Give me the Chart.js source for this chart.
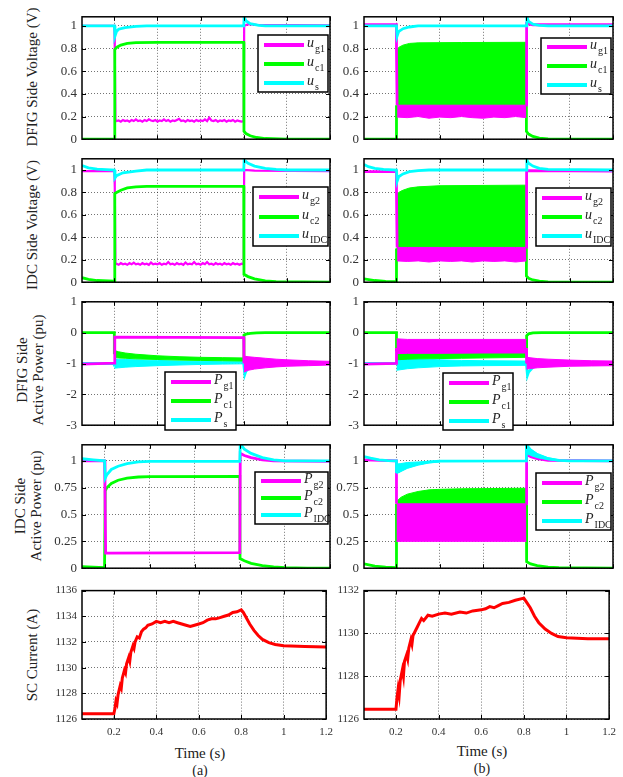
<!DOCTYPE html>
<html><head><meta charset="utf-8">
<script src="https://cdn.jsdelivr.net/npm/chart.js@4.4.1/dist/chart.umd.min.js"></script>
<style>
html,body{margin:0;padding:0;background:#fff;}
body{width:623px;height:777px;position:relative;overflow:hidden;}
canvas{position:absolute;}
.lbl{position:absolute;font-family:'Liberation Serif',serif;color:#222;white-space:nowrap;text-align:center;}
.rot{transform:translate(-50%,-50%) rotate(-90deg);line-height:16px;font-size:15px;}
.ctr{transform:translate(-50%,-50%);}
</style></head><body>
<div class="lbl rot" style="left:32px;top:77px;">DFIG Side Voltage (V)</div>
<div class="lbl rot" style="left:32px;top:225px;">IDC Side Voltage (V)</div>
<div class="lbl rot" style="left:30px;top:370px;">DFIG Side<br>Active Power (pu)</div>
<div class="lbl rot" style="left:28px;top:506px;">IDC Side<br>Active Power (pu)</div>
<div class="lbl rot" style="left:32px;top:655px;">SC Current (A)</div>
<div class="lbl ctr" style="left:200px;top:753px;font-size:15px;">Time (s)</div>
<div class="lbl ctr" style="left:200px;top:771px;font-size:14px;">(a)</div>
<div class="lbl ctr" style="left:482px;top:751px;font-size:15px;">Time (s)</div>
<div class="lbl ctr" style="left:482px;top:769px;font-size:14px;">(b)</div>
<script>
// ================= DATA =================
const xTicks = [0.2, 0.4, 0.6, 0.8, 1.0, 1.2];
const xTickLabels = ['0.2', '0.4', '0.6', '0.8', '1', '1.2'];
const yTicksV = [0, 0.2, 0.4, 0.6, 0.8, 1];
const yTickLabelsV = ['0', '0.2', '0.4', '0.6', '0.8', '1'];
const yTicksP1 = [-3, -2, -1, 0, 1];
const yTickLabelsP1 = ['-3', '-2', '-1', '0', '1'];
const yTicksP2 = [0, 0.25, 0.5, 0.75, 1];
const yTickLabelsP2 = ['0', '0.25', '0.5', '0.75', '1'];
const yTicksIa = [1126, 1128, 1130, 1132, 1134, 1136];
const yTickLabelsIa = ['1126', '1128', '1130', '1132', '1134', '1136'];
const yTicksIb = [1126, 1128, 1130, 1132];
const yTickLabelsIb = ['1126', '1128', '1130', '1132'];

// ---- column (a) : [t, value] ----
const ug1_a = [[0.05,1.0],[0.2,1.0],[0.202,0.8],[0.205,0.17],[0.21,0.16],[0.22,0.165],[0.23,0.155],[0.24,0.17],[0.25,0.16],[0.26,0.165],[0.27,0.155],[0.28,0.17],[0.29,0.16],[0.3,0.175],[0.31,0.16],[0.32,0.165],[0.33,0.155],[0.34,0.17],[0.35,0.16],[0.36,0.175],[0.37,0.165],[0.38,0.16],[0.39,0.17],[0.4,0.155],[0.41,0.165],[0.42,0.16],[0.43,0.175],[0.44,0.16],[0.45,0.17],[0.46,0.155],[0.47,0.165],[0.48,0.16],[0.49,0.17],[0.5,0.18],[0.51,0.16],[0.52,0.165],[0.53,0.155],[0.54,0.17],[0.55,0.16],[0.56,0.165],[0.57,0.155],[0.58,0.17],[0.59,0.16],[0.6,0.165],[0.61,0.16],[0.62,0.175],[0.63,0.16],[0.64,0.19],[0.65,0.165],[0.66,0.16],[0.67,0.17],[0.68,0.155],[0.69,0.165],[0.7,0.16],[0.71,0.17],[0.72,0.155],[0.73,0.165],[0.74,0.16],[0.75,0.17],[0.76,0.155],[0.77,0.165],[0.78,0.16],[0.79,0.155],[0.8,0.16],[0.802,1.0],[0.82,1.015],[0.86,1.01],[1.2,1.005]];
const uc1_a = [[0.05,0],[0.2,0],[0.202,0.79],[0.21,0.81],[0.23,0.83],[0.26,0.845],[0.3,0.852],[0.4,0.855],[0.8,0.855],[0.801,0.07],[0.81,0.05],[0.83,0.03],[0.86,0.015],[0.9,0.006],[1.0,0.0],[1.2,0.0]];
const us_a = [[0.05,1.0],[0.2,1.0],[0.203,0.91],[0.21,0.95],[0.22,0.97],[0.25,0.985],[0.3,0.995],[0.35,1.0],[0.8,1.0],[0.802,1.08],[0.81,1.045],[0.83,1.02],[0.87,1.005],[0.9,1.0],[1.2,1.0]];

const ug2_a = [[0.05,0.99],[0.2,0.99],[0.202,0.85],[0.205,0.16],[0.21,0.165],[0.22,0.155],[0.23,0.17],[0.24,0.16],[0.25,0.165],[0.26,0.155],[0.27,0.17],[0.28,0.16],[0.29,0.175],[0.3,0.16],[0.31,0.165],[0.32,0.155],[0.33,0.17],[0.34,0.16],[0.35,0.165],[0.36,0.155],[0.37,0.175],[0.38,0.16],[0.39,0.165],[0.4,0.16],[0.41,0.17],[0.42,0.155],[0.43,0.165],[0.44,0.16],[0.45,0.18],[0.46,0.16],[0.47,0.165],[0.48,0.155],[0.49,0.17],[0.5,0.16],[0.51,0.165],[0.52,0.155],[0.53,0.175],[0.54,0.16],[0.55,0.165],[0.56,0.16],[0.57,0.18],[0.58,0.16],[0.59,0.165],[0.6,0.155],[0.61,0.17],[0.62,0.16],[0.63,0.18],[0.64,0.16],[0.65,0.165],[0.66,0.155],[0.67,0.17],[0.68,0.16],[0.69,0.165],[0.7,0.155],[0.71,0.17],[0.72,0.16],[0.73,0.165],[0.74,0.155],[0.75,0.17],[0.76,0.16],[0.77,0.165],[0.78,0.155],[0.79,0.165],[0.8,0.16],[0.802,1.0],[0.85,0.995],[1.2,0.99]];
const uc2_a = [[0.05,0.04],[0.08,0.025],[0.12,0.015],[0.2,0.01],[0.202,0.79],[0.21,0.8],[0.23,0.82],[0.26,0.84],[0.3,0.85],[0.35,0.855],[0.8,0.855],[0.801,0.07],[0.82,0.05],[0.85,0.03],[0.9,0.012],[0.95,0.004],[1.2,0.0]];
const uIDC_a = [[0.05,1.04],[0.08,1.02],[0.12,1.008],[0.2,1.0],[0.203,0.93],[0.21,0.95],[0.24,0.975],[0.3,0.99],[0.35,1.0],[0.8,1.0],[0.802,1.09],[0.82,1.06],[0.85,1.035],[0.9,1.015],[0.95,1.005],[1.0,1.0],[1.2,1.0]];

const Pg1_a = [[0.05,-1.02],[0.2,-0.99],[0.202,-0.15],[0.5,-0.155],[0.8,-0.16],[0.801,-1.0]];
const Pg1_a_osc = [[0.8,-1.28,-0.76],[0.82,-1.22,-0.78],[0.85,-1.18,-0.8],[0.9,-1.14,-0.83],[0.95,-1.11,-0.86],[1.0,-1.09,-0.88],[1.1,-1.07,-0.91],[1.2,-1.05,-0.93]];
const Pc1_a = [[0.05,0],[0.2,0],[0.2,-0.7],[0.5,null],[0.8,-0.86],[0.801,-0.08],[0.81,-0.05],[0.83,-0.02],[0.86,-0.005],[0.9,0],[1.2,0]];
const Pc1_a_osc = [[0.2,-0.8,-0.58],[0.22,-0.82,-0.62],[0.25,-0.83,-0.66],[0.3,-0.85,-0.7],[0.4,-0.87,-0.75],[0.5,-0.89,-0.78],[0.6,-0.9,-0.8],[0.7,-0.91,-0.81],[0.8,-0.92,-0.82]];
const Ps_a = [[0.05,-1.0],[0.2,-1.0],[0.2,-1.1],[0.5,null],[0.8,-1.0],[0.805,-1.35],[0.81,-1.25],[0.83,-1.1],[0.87,-1.02],[1.2,-1.0]];
const Ps_a_osc = [[0.2,-1.15,-0.85],[0.22,-1.14,-0.86],[0.25,-1.12,-0.87],[0.3,-1.1,-0.88],[0.4,-1.07,-0.9],[0.5,-1.05,-0.92],[0.6,-1.03,-0.93],[0.7,-1.02,-0.94],[0.8,-1.01,-0.94]];

const Pg2_a = [[0.1,1.0],[0.2,1.0],[0.202,0.7],[0.205,0.14],[0.8,0.145],[0.802,1.07],[0.82,1.05],[0.85,1.03],[0.9,1.01],[0.95,1.0],[1.2,0.995]];
const Pc2_a = [[0.1,0.015],[0.15,0.01],[0.2,0.005],[0.203,0.72],[0.21,0.75],[0.23,0.79],[0.26,0.82],[0.3,0.84],[0.35,0.85],[0.4,0.853],[0.8,0.855],[0.801,0.09],[0.82,0.07],[0.85,0.045],[0.9,0.025],[0.95,0.012],[1.0,0.005],[1.1,0.0],[1.2,0.0]];
const PIDC_a = [[0.1,1.02],[0.15,1.01],[0.2,1.0],[0.203,0.84],[0.21,0.87],[0.23,0.92],[0.26,0.95],[0.3,0.975],[0.35,0.99],[0.4,0.995],[0.8,0.995],[0.802,1.16],[0.82,1.11],[0.85,1.07],[0.9,1.03],[0.95,1.01],[1.0,1.0],[1.2,1.0]];

const Isc_a = [[0.05,1126.4],[0.2,1126.4],[0.205,1126.8],[0.21,1127.4],[0.215,1127.2],[0.22,1127.9],[0.23,1128.6],[0.235,1128.4],[0.24,1129.2],[0.25,1129.8],[0.255,1129.6],[0.26,1130.3],[0.27,1130.8],[0.275,1130.5],[0.28,1131.2],[0.29,1131.7],[0.295,1131.5],[0.3,1132.0],[0.31,1132.4],[0.32,1132.3],[0.33,1132.8],[0.34,1133.0],[0.35,1133.1],[0.36,1133.3],[0.38,1133.4],[0.4,1133.6],[0.42,1133.5],[0.44,1133.6],[0.46,1133.5],[0.48,1133.6],[0.5,1133.5],[0.52,1133.4],[0.54,1133.3],[0.56,1133.2],[0.58,1133.3],[0.6,1133.4],[0.62,1133.5],[0.64,1133.7],[0.66,1133.8],[0.68,1133.8],[0.7,1133.9],[0.72,1134.0],[0.74,1134.1],[0.76,1134.3],[0.78,1134.35],[0.8,1134.5],[0.81,1134.3],[0.82,1134.0],[0.84,1133.4],[0.86,1132.9],[0.88,1132.5],[0.9,1132.2],[0.93,1131.95],[0.96,1131.8],[1.0,1131.7],[1.1,1131.65],[1.2,1131.6]];

// ---- column (b) : [t, value]  and oscillation envelopes [t, low, high] ----
const ug1_b = [[0.05,1.01],[0.2,1.01],[0.2,0.78],[0.203,0.3],[0.5,null],[0.8,0.3],[0.801,1.02],[0.83,1.01],[1.2,1.01]];
const ug1_b_osc = [[0.203,0.195,0.3],[0.25,0.19,0.3],[0.3,0.2,0.3],[0.35,0.185,0.3],[0.4,0.195,0.3],[0.45,0.19,0.3],[0.5,0.2,0.3],[0.55,0.19,0.3],[0.6,0.185,0.3],[0.65,0.195,0.3],[0.7,0.19,0.3],[0.75,0.2,0.3],[0.8,0.19,0.3]];
const uc1_b = [[0.05,0],[0.2,0],[0.2,0.3],[0.5,null],[0.8,0.5],[0.8,0.07],[0.81,0.045],[0.83,0.025],[0.86,0.01],[0.9,0.003],[1.2,0]];
const uc1_b_osc = [[0.2,0.3,0.78],[0.21,0.3,0.81],[0.23,0.3,0.83],[0.26,0.3,0.845],[0.3,0.3,0.85],[0.5,0.3,0.853],[0.8,0.3,0.855]];
const us_b = [[0.05,1.0],[0.2,1.0],[0.203,0.91],[0.21,0.95],[0.23,0.975],[0.26,0.99],[0.3,1.0],[0.8,1.0],[0.802,1.08],[0.81,1.04],[0.83,1.015],[0.86,1.005],[0.9,1.0],[1.2,1.0]];

const ug2_b = [[0.05,0.985],[0.2,0.985],[0.2,0.8],[0.203,0.31],[0.5,null],[0.8,0.31],[0.801,0.995],[1.2,0.99]];
const ug2_b_osc = [[0.203,0.19,0.31],[0.25,0.185,0.31],[0.3,0.19,0.31],[0.35,0.18,0.31],[0.4,0.19,0.31],[0.45,0.185,0.31],[0.5,0.19,0.31],[0.55,0.18,0.31],[0.6,0.19,0.31],[0.65,0.185,0.31],[0.7,0.19,0.31],[0.75,0.18,0.31],[0.8,0.19,0.31]];
const uc2_b = [[0.05,0.03],[0.1,0.015],[0.15,0.008],[0.2,0.005],[0.2,0.3],[0.5,null],[0.8,0.5],[0.8,0.055],[0.81,0.035],[0.83,0.02],[0.86,0.01],[0.9,0.003],[1.2,0]];
const uc2_b_osc = [[0.2,0.3,0.78],[0.21,0.3,0.8],[0.23,0.3,0.82],[0.26,0.3,0.84],[0.3,0.3,0.85],[0.4,0.3,0.86],[0.8,0.3,0.865]];
const uIDC_b = [[0.05,1.05],[0.07,1.03],[0.1,1.015],[0.14,1.005],[0.2,1.0],[0.203,0.9],[0.21,0.94],[0.23,0.965],[0.26,0.985],[0.3,0.995],[0.35,1.0],[0.8,1.0],[0.802,1.09],[0.81,1.06],[0.83,1.035],[0.86,1.015],[0.9,1.005],[1.2,1.0]];

const Pg1_b = [[0.05,-1.02],[0.2,-1.0],[0.2,-0.5],[0.5,null],[0.8,-0.5],[0.801,-1.0]];
const Pg1_b_osc = [[0.2,-0.68,-0.2],[0.25,-0.67,-0.22],[0.4,-0.67,-0.22],[0.6,-0.66,-0.22],[0.8,-0.66,-0.22]];
const Pg1_b_osc2 = [[0.8,-1.18,-0.8],[0.85,-1.14,-0.84],[0.9,-1.12,-0.86],[1.0,-1.09,-0.89],[1.1,-1.08,-0.91],[1.2,-1.07,-0.92]];
const Pc1_b = [[0.05,0],[0.2,0],[0.2,-0.6],[0.5,null],[0.8,-0.7],[0.801,-0.1],[0.81,-0.04],[0.83,-0.01],[0.87,0],[1.2,0]];
const Pc1_b_osc = [[0.2,-0.88,-0.55],[0.25,-0.86,-0.6],[0.3,-0.85,-0.62],[0.5,-0.83,-0.64],[0.8,-0.8,-0.65]];
const Ps_b = [[0.05,-1.0],[0.2,-1.0],[0.5,null],[0.8,-1.0],[0.805,-1.38],[0.81,-1.28],[0.83,-1.12],[0.87,-1.03],[1.2,-1.0]];
const Ps_b_osc = [[0.2,-1.22,-0.75],[0.25,-1.17,-0.8],[0.3,-1.14,-0.85],[0.4,-1.1,-0.88],[0.5,-1.08,-0.9],[0.6,-1.07,-0.91],[0.8,-1.06,-0.92]];

const Pg2_b = [[0.05,1.01],[0.2,1.0],[0.2,0.6],[0.5,null],[0.8,0.6],[0.801,1.06],[0.82,1.04],[0.85,1.02],[0.9,1.005],[1.2,1.0]];
const Pg2_b_osc = [[0.2,0.25,0.6],[0.4,0.25,0.6],[0.6,0.25,0.6],[0.8,0.25,0.6]];
const Pc2_b = [[0.05,0.04],[0.1,0.02],[0.15,0.01],[0.2,0.005],[0.2,0.6],[0.5,null],[0.8,0.7],[0.801,0.06],[0.82,0.04],[0.85,0.025],[0.9,0.01],[0.95,0.005],[1.2,0]];
const Pc2_b_osc = [[0.2,0.58,0.62],[0.22,0.58,0.66],[0.25,0.58,0.69],[0.3,0.58,0.715],[0.35,0.58,0.73],[0.4,0.58,0.735],[0.5,0.58,0.74],[0.8,0.58,0.745]];
const PIDC_b = [[0.05,1.04],[0.08,1.025],[0.12,1.01],[0.16,1.003],[0.2,1.0],[0.2,0.9],[0.21,0.9],[0.23,0.93],[0.26,0.955],[0.3,0.975],[0.35,0.99],[0.4,0.997],[0.8,1.0],[0.8,1.15],[0.82,1.1],[0.85,1.055],[0.9,1.02],[0.95,1.005],[1.0,1.0],[1.2,1.0]];
const PIDC_b_osc = [[0.2,0.88,0.97],[0.22,0.9,0.975],[0.25,0.93,0.985],[0.3,0.96,0.99],[0.35,0.98,0.995],[0.4,0.99,1.0]];
const PIDC_b_osc2 = [[0.8,1.07,1.15],[0.82,1.05,1.11],[0.85,1.03,1.07],[0.9,1.01,1.03],[0.95,1.0,1.01]];

const Isc_b = [[0.05,1126.45],[0.2,1126.45],[0.205,1127.0],[0.21,1127.4],[0.215,1127.1],[0.22,1127.8],[0.23,1128.3],[0.235,1128.0],[0.24,1128.7],[0.25,1129.0],[0.255,1128.8],[0.26,1129.3],[0.27,1129.7],[0.275,1129.5],[0.28,1129.9],[0.29,1130.1],[0.3,1130.3],[0.31,1130.5],[0.32,1130.7],[0.33,1130.6],[0.35,1130.85],[0.37,1130.8],[0.4,1130.9],[0.43,1130.95],[0.46,1130.9],[0.5,1131.0],[0.53,1130.95],[0.56,1131.05],[0.6,1131.1],[0.62,1131.15],[0.64,1131.25],[0.66,1131.2],[0.68,1131.3],[0.7,1131.4],[0.73,1131.45],[0.76,1131.55],[0.8,1131.65],[0.81,1131.5],[0.83,1131.2],[0.85,1130.8],[0.87,1130.5],[0.9,1130.2],[0.93,1130.0],[0.96,1129.85],[1.0,1129.8],[1.1,1129.75],[1.2,1129.75]];

// ================= RENDERING =================
const MAG = '#ff00ff', GRN = '#00ff00', CYN = '#00ffff', RED = '#ff0000';
const FONT = '"Liberation Serif", "Times New Roman", serif';

function lineDS(pts, color, order, w) {
  return { data: pts.map(p => ({ x: p[0], y: p[1] })), borderColor: color, backgroundColor: color,
    borderWidth: w || 2.8, pointRadius: 0, fill: false, order: order, spanGaps: false, tension: 0 };
}
function bandDS(band, color, order) {
  return [
    { data: band.map(p => ({ x: p[0], y: p[1] })), borderColor: color, backgroundColor: color, borderWidth: 1, pointRadius: 0, fill: false, order: order },
    { data: band.map(p => ({ x: p[0], y: p[2] })), borderColor: color, backgroundColor: color, borderWidth: 1, pointRadius: 0, fill: '-1', order: order }
  ];
}

const framePlugin = {
  id: 'frame',
  afterDatasetsDraw(chart) {
    const { ctx, chartArea: a, scales } = chart;
    ctx.save();
    ctx.strokeStyle = '#000'; ctx.lineWidth = 1;
    ctx.beginPath();
    scales.x.ticks.forEach(t => {
      const px = Math.round(scales.x.getPixelForValue(t.value)) + 0.5;
      ctx.moveTo(px, a.bottom); ctx.lineTo(px, a.bottom - 4);
      ctx.moveTo(px, a.top); ctx.lineTo(px, a.top + 4);
    });
    scales.y.ticks.forEach(t => {
      const py = Math.round(scales.y.getPixelForValue(t.value)) + 0.5;
      ctx.moveTo(a.left, py); ctx.lineTo(a.left + 4, py);
      ctx.moveTo(a.right, py); ctx.lineTo(a.right - 4, py);
    });
    ctx.stroke();
    ctx.lineWidth = 1.5;
    ctx.strokeRect(a.left, a.top, a.right - a.left, a.bottom - a.top);
    ctx.restore();
  }
};

function legendPlugin(leg, offX, offY) {
  return {
    id: 'mlegend',
    afterDraw(chart) {
      if (!leg) return;
      const ctx = chart.ctx;
      const x = leg.box[0] - offX, y = leg.box[1] - offY, w = leg.box[2], h = leg.box[3];
      ctx.save();
      ctx.fillStyle = '#fff'; ctx.fillRect(x, y, w, h);
      ctx.strokeStyle = '#000'; ctx.lineWidth = 1.5; ctx.strokeRect(x, y, w, h);
      leg.items.forEach((it, i) => {
        const cy = Math.round(y + h * (2 * i + 1) / 6);
        ctx.strokeStyle = it.color; ctx.lineWidth = 4;
        ctx.beginPath(); ctx.moveTo(x + 6, cy); ctx.lineTo(x + 46, cy); ctx.stroke();
        ctx.fillStyle = '#222'; ctx.textBaseline = 'middle'; ctx.textAlign = 'left';
        ctx.font = "italic 14px " + FONT;
        ctx.fillText(it.sym, x + 49, cy - 2);
        const mw = ctx.measureText(it.sym).width;
        ctx.font = "10px " + FONT;
        ctx.fillText(it.sub, x + 49 + mw + 1, cy + 4);
      });
      ctx.restore();
    }
  };
}

const LX = [82, 330], RX = [364, 613];
const rows = [[14, 144], [156, 287], [299, 430], [442, 573], [589, 719]];

const panels = [
  { col: LX, row: 0, xmin: 0.05, ymin: 0, ymax: 1.08, yt: yTicksV, yl: yTickLabelsV, fs: 13,
    series: [{ line: us_a, c: CYN, o: 0 }, { line: uc1_a, c: GRN, o: 1 }, { line: ug1_a, c: MAG, o: 2, w: 2.2 }],
    legend: { box: [258, 35, 70, 57], items: [{ sym: 'u', sub: 'g1', color: MAG }, { sym: 'u', sub: 'c1', color: GRN }, { sym: 'u', sub: 's', color: CYN }] } },
  { col: RX, row: 0, xmin: 0.05, ymin: 0, ymax: 1.08, yt: yTicksV, yl: yTickLabelsV, fs: 13,
    series: [{ line: us_b, c: CYN, o: 0 }, { line: ug1_b, bands: [ug1_b_osc], c: MAG, o: 1 }, { line: uc1_b, bands: [uc1_b_osc], c: GRN, o: 2 }],
    legend: { box: [541, 38, 70, 56], items: [{ sym: 'u', sub: 'g1', color: MAG }, { sym: 'u', sub: 'c1', color: GRN }, { sym: 'u', sub: 's', color: CYN }] } },
  { col: LX, row: 1, xmin: 0.05, ymin: 0, ymax: 1.1, yt: yTicksV, yl: yTickLabelsV, fs: 13,
    series: [{ line: uIDC_a, c: CYN, o: 0 }, { line: uc2_a, c: GRN, o: 1 }, { line: ug2_a, c: MAG, o: 2, w: 2.2 }],
    legend: { box: [253, 187, 75, 59], items: [{ sym: 'u', sub: 'g2', color: MAG }, { sym: 'u', sub: 'c2', color: GRN }, { sym: 'u', sub: 'IDC', color: CYN }] } },
  { col: RX, row: 1, xmin: 0.05, ymin: 0, ymax: 1.1, yt: yTicksV, yl: yTickLabelsV, fs: 13,
    series: [{ line: uIDC_b, c: CYN, o: 0 }, { line: ug2_b, bands: [ug2_b_osc], c: MAG, o: 1 }, { line: uc2_b, bands: [uc2_b_osc], c: GRN, o: 2 }],
    legend: { box: [536, 188, 75, 58], items: [{ sym: 'u', sub: 'g2', color: MAG }, { sym: 'u', sub: 'c2', color: GRN }, { sym: 'u', sub: 'IDC', color: CYN }] } },
  { col: LX, row: 2, xmin: 0.05, ymin: -3, ymax: 1, yt: yTicksP1, yl: yTickLabelsP1, fs: 13,
    series: [{ line: Pg1_a, bands: [Pg1_a_osc], c: MAG, o: 0 }, { line: Pc1_a, bands: [Pc1_a_osc], c: GRN, o: 1 }, { line: Ps_a, bands: [Ps_a_osc], c: CYN, o: 2 }],
    legend: { box: [165, 372, 71, 58], items: [{ sym: 'P', sub: 'g1', color: MAG }, { sym: 'P', sub: 'c1', color: GRN }, { sym: 'P', sub: 's', color: CYN }] } },
  { col: RX, row: 2, xmin: 0.05, ymin: -3, ymax: 1, yt: yTicksP1, yl: yTickLabelsP1, fs: 13,
    series: [{ line: Pg1_b, bands: [Pg1_b_osc, Pg1_b_osc2], c: MAG, o: 0 }, { line: Pc1_b, bands: [Pc1_b_osc], c: GRN, o: 1 }, { line: Ps_b, bands: [Ps_b_osc], c: CYN, o: 2 }],
    legend: { box: [443, 373, 70, 57], items: [{ sym: 'P', sub: 'g1', color: MAG }, { sym: 'P', sub: 'c1', color: GRN }, { sym: 'P', sub: 's', color: CYN }] } },
  { col: LX, row: 3, xmin: 0.1, ymin: 0, ymax: 1.15, yt: yTicksP2, yl: yTickLabelsP2, fs: 13,
    series: [{ line: PIDC_a, c: CYN, o: 0 }, { line: Pg2_a, c: MAG, o: 1 }, { line: Pc2_a, c: GRN, o: 2 }],
    legend: { box: [255, 472, 73, 52], items: [{ sym: 'P', sub: 'g2', color: MAG }, { sym: 'P', sub: 'c2', color: GRN }, { sym: 'P', sub: 'IDC', color: CYN }] } },
  { col: RX, row: 3, xmin: 0.05, ymin: 0, ymax: 1.15, yt: yTicksP2, yl: yTickLabelsP2, fs: 13,
    series: [{ line: PIDC_b, bands: [PIDC_b_osc, PIDC_b_osc2], c: CYN, o: 0 }, { line: Pg2_b, bands: [Pg2_b_osc], c: MAG, o: 1 }, { line: Pc2_b, bands: [Pc2_b_osc], c: GRN, o: 2 }],
    legend: { box: [536, 473, 75, 57], items: [{ sym: 'P', sub: 'g2', color: MAG }, { sym: 'P', sub: 'c2', color: GRN }, { sym: 'P', sub: 'IDC', color: CYN }] } },
  { col: LX, row: 4, xmin: 0.05, ymin: 1126, ymax: 1136, yt: yTicksIa, yl: yTickLabelsIa, fs: 11, showX: true,
    series: [{ line: Isc_a, c: RED, o: 0, w: 3 }] },
  { col: RX, row: 4, xmin: 0.05, ymin: 1126, ymax: 1132, yt: yTicksIb, yl: yTickLabelsIb, fs: 11, showX: true,
    series: [{ line: Isc_b, c: RED, o: 0, w: 3 }] }
];

const padL = 48, padT = 10, padR = 10;
const charts = [];
function build() {
  panels.forEach(p => {
    const L = p.col[0], R = p.col[1], T = rows[p.row][0], B = rows[p.row][1];
    const xh = p.showX ? 24 : 8;
    const cw = (R - L) + padL + padR, ch = (B - T) + padT + xh;
    const offX = L - padL, offY = T - padT;
    const cv = document.createElement('canvas');
    cv.width = cw; cv.height = ch;
    cv.style.left = offX + 'px'; cv.style.top = offY + 'px';
    cv.style.width = cw + 'px'; cv.style.height = ch + 'px';
    document.body.appendChild(cv);

    const datasets = [];
    p.series.forEach(s => {
      (s.bands || []).forEach(b => bandDS(b, s.c, s.o).forEach(d => datasets.push(d)));
      datasets.push(lineDS(s.line, s.c, s.o, s.w));
    });

    const gridCfg = { color: 'rgba(0,0,0,0.55)', lineWidth: 1, drawTicks: false };
    const borderCfg = { display: false, dash: [1, 2] };

    charts.push(new Chart(cv, {
      type: 'line',
      data: { datasets },
      options: {
        responsive: false, animation: false, devicePixelRatio: 1,
        layout: { padding: { left: 0, top: padT, right: padR, bottom: 0 } },
        plugins: { legend: { display: false }, tooltip: { enabled: false } },
        scales: {
          x: {
            type: 'linear', min: p.xmin, max: 1.2,
            afterBuildTicks: s => { s.ticks = xTicks.map(v => ({ value: v })); },
            afterFit: s => { s.height = xh; },
            ticks: { display: !!p.showX, autoSkip: false, maxRotation: 0, padding: 7,
              callback: (v, i) => xTickLabels[i], color: '#333', font: { family: FONT, size: 11 } },
            grid: gridCfg, border: borderCfg
          },
          y: {
            type: 'linear', min: p.ymin, max: p.ymax,
            afterBuildTicks: s => { s.ticks = p.yt.map(v => ({ value: v })); },
            afterFit: s => { s.width = padL; },
            ticks: { autoSkip: false, padding: 5, callback: (v, i) => p.yl[i], color: '#333', font: { family: FONT, size: p.fs } },
            grid: gridCfg, border: borderCfg
          }
        }
      },
      plugins: [framePlugin, legendPlugin(p.legend, offX, offY)]
    }));
  });
}
build();
if (document.fonts && document.fonts.load) {
  Promise.all([
    document.fonts.load('13px "Liberation Serif"'),
    document.fonts.load('italic 14px "Liberation Serif"')
  ]).then(() => charts.forEach(c => c.update('none')), () => {});
}
</script>
</body></html>
